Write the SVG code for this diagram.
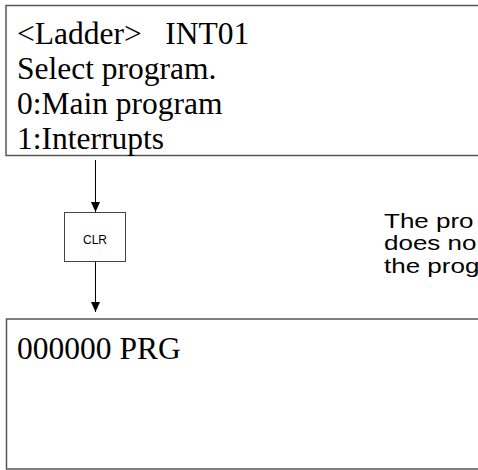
<svg xmlns="http://www.w3.org/2000/svg" width="478" height="470" viewBox="0 0 478 470">
<style>
.screen{fill:#fff;stroke:#555;stroke-width:1.5}
.lcd{font-family:"Liberation Serif","Times New Roman",serif;font-size:31.5px;fill:#000}
.note{font-family:"Liberation Sans",Arial,sans-serif;font-size:20px;fill:#000}
.key{fill:#fff;stroke:#444;stroke-width:1}
.keytxt{font-family:"Liberation Sans",Arial,sans-serif;font-size:12px;fill:#000;text-anchor:middle}
.conn{stroke:#000;stroke-width:1;fill:none}
</style>
<defs>
<marker id="arr" viewBox="0 0 10 16" refX="10" refY="8" markerWidth="14" markerHeight="16" markerUnits="userSpaceOnUse" orient="auto">
<path d="M0,3.5 L10,8 L0,12.5 Z" fill="#000"/>
</marker>
</defs>
<rect width="478" height="470" fill="#fff"/>
<g id="screen1">
<rect class="screen" x="6" y="5.5" width="480" height="150"/>
<text class="lcd" x="17" y="44" xml:space="preserve">&lt;Ladder&gt;   INT01</text>
<text class="lcd" x="17" y="79">Select program.</text>
<text class="lcd" x="17" y="114">0:Main program</text>
<text class="lcd" x="17" y="149">1:Interrupts</text>
</g>
<g id="clr">
<rect class="key" x="64.5" y="212.5" width="61" height="49"/>
<text class="keytxt" x="95" y="244">CLR</text>
</g>
<g id="note" transform="translate(384,0) scale(1.3,1)">
<text class="note" x="0" y="228">The pro</text>
<text class="note" x="0" y="250.5">does no</text>
<text class="note" x="0" y="273">the prog</text>
</g>
<g id="screen2">
<rect class="screen" x="6.5" y="319" width="480" height="150"/>
<text class="lcd" x="17" y="359">000000 PRG</text>
</g>
<g id="connectors">
<line class="conn" x1="95.5" y1="160" x2="95.5" y2="212" marker-end="url(#arr)"/>
<line class="conn" x1="95.5" y1="262" x2="95.5" y2="312" marker-end="url(#arr)"/>
</g>
</svg>
